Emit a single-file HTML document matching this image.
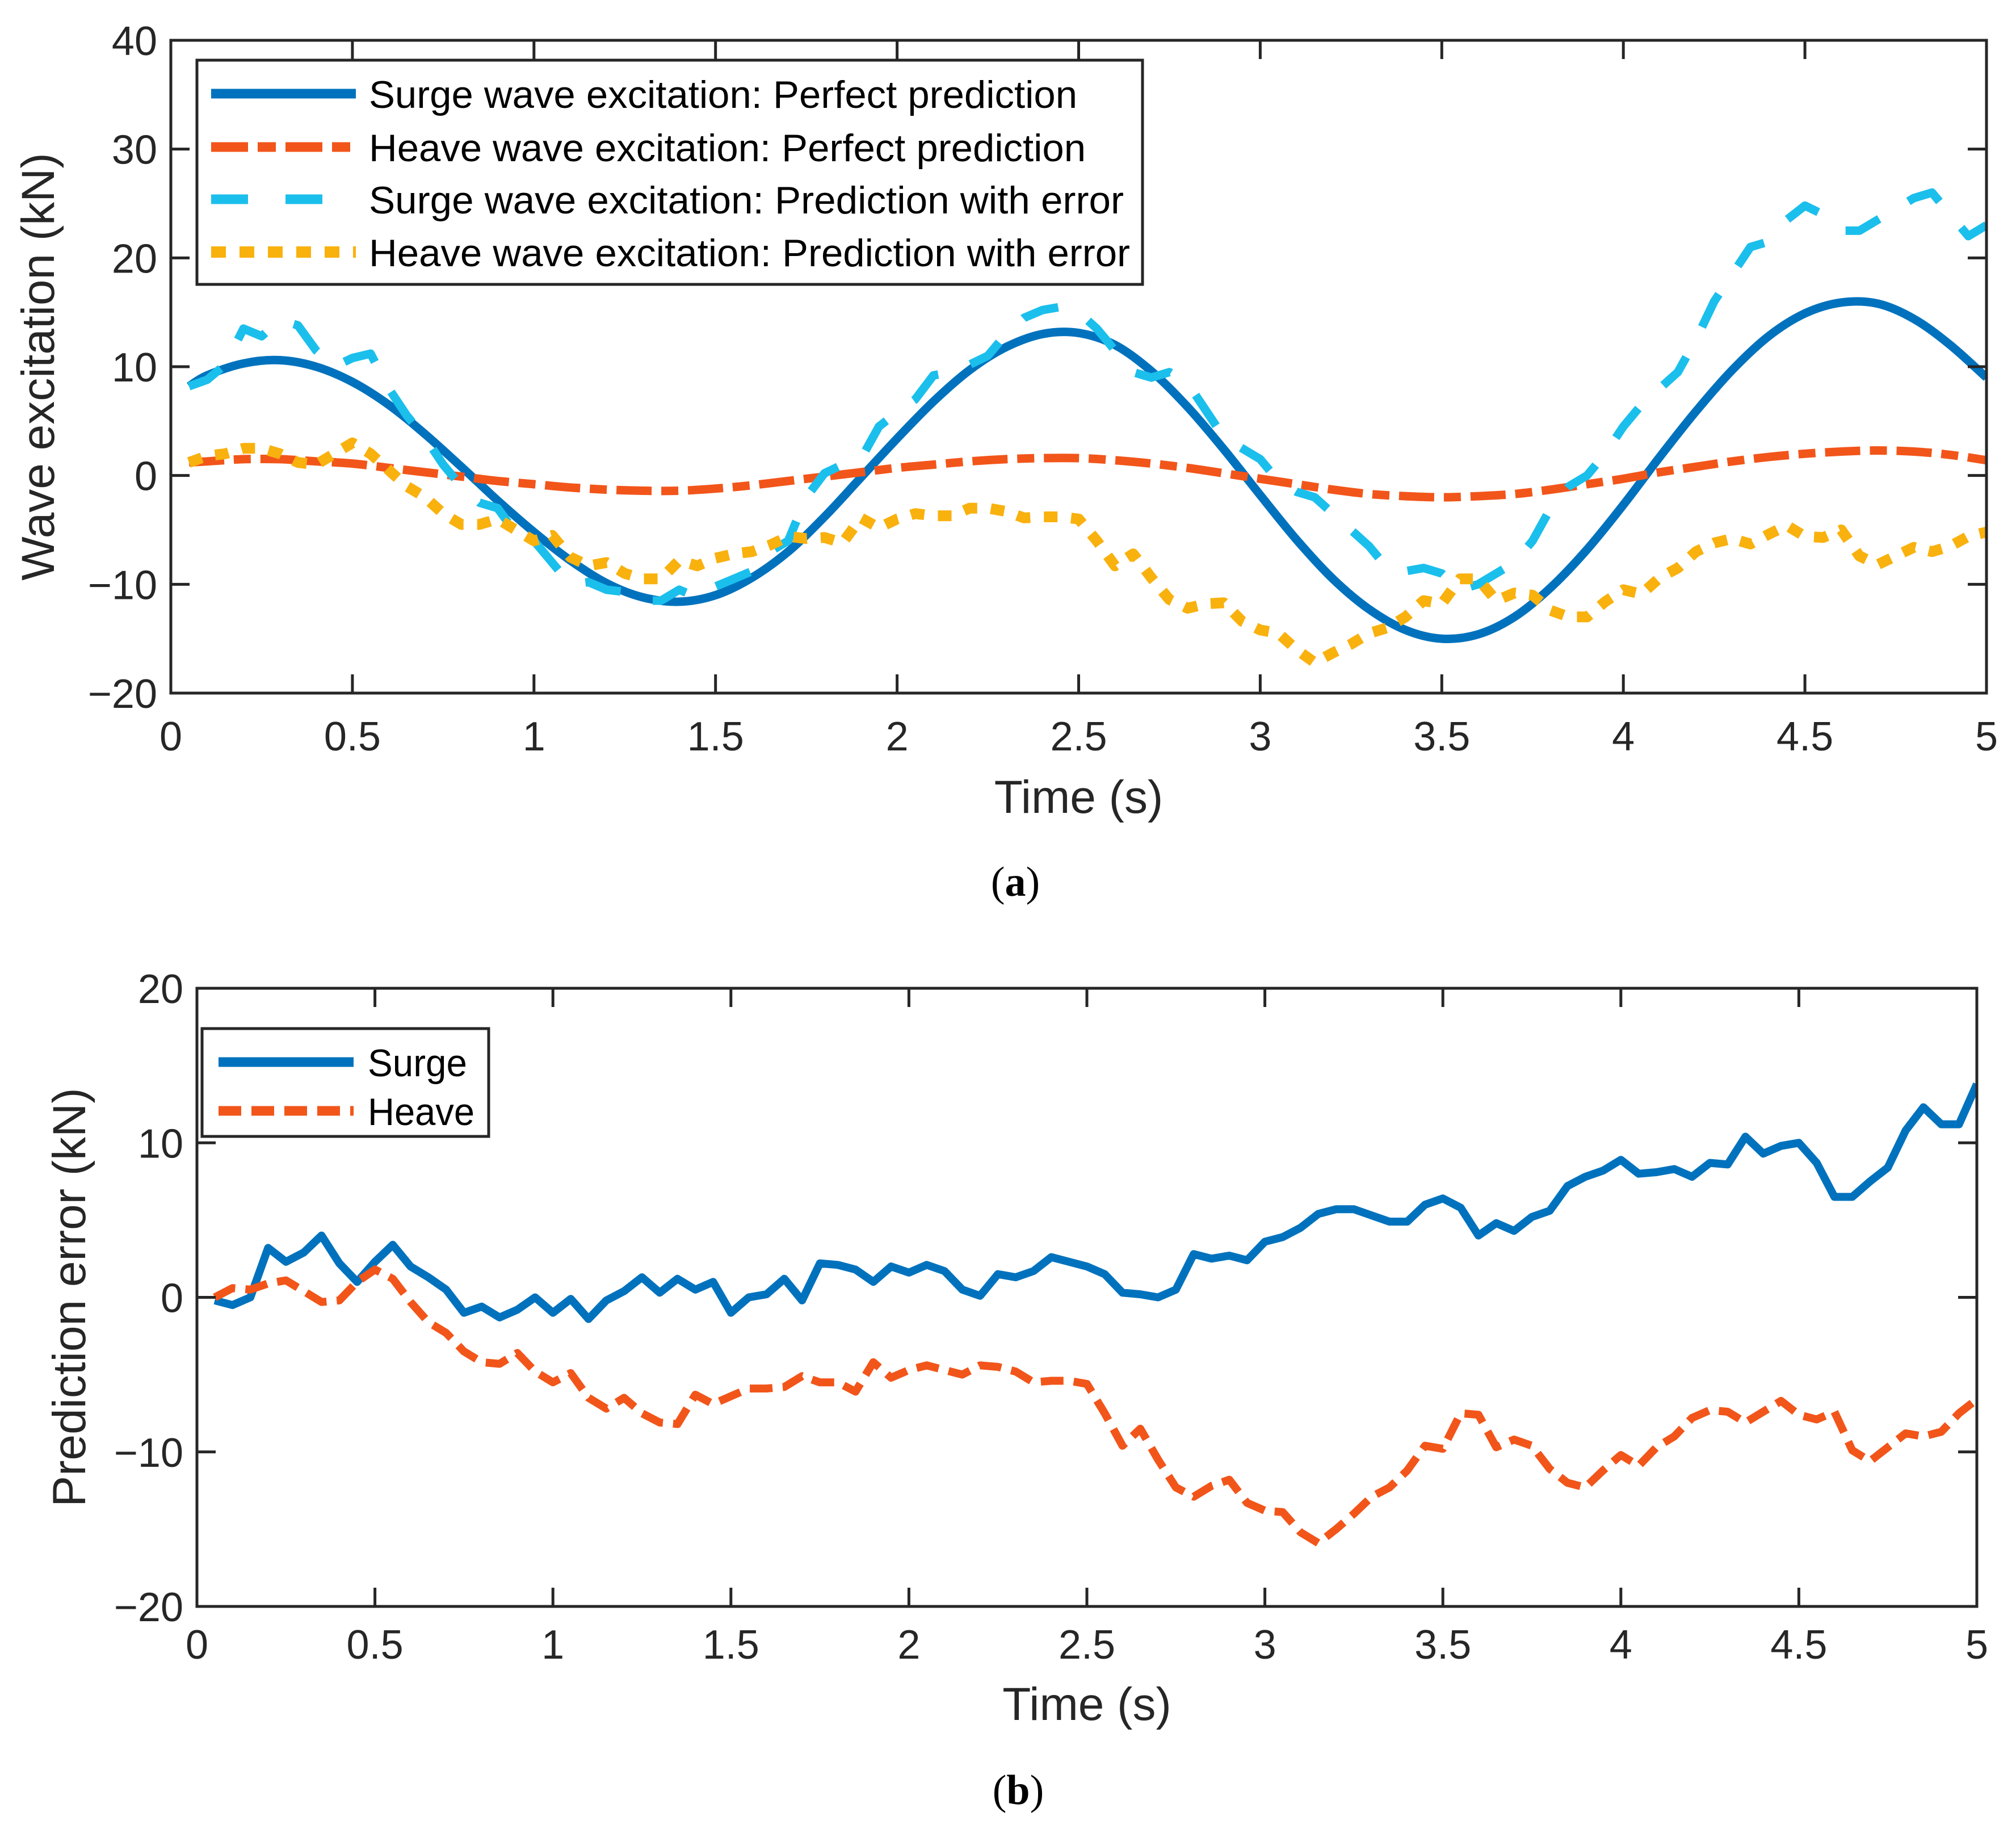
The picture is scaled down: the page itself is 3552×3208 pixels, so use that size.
<!DOCTYPE html>
<html><head><meta charset="utf-8"><style>
html,body{margin:0;padding:0;background:#fff;}
svg{display:block;font-family:"Liberation Sans",Arial,sans-serif;}
</style></head><body>
<svg id="fig" xmlns="http://www.w3.org/2000/svg" width="3552" height="3208" viewBox="0 0 3552 3208">
<rect width="3552" height="3208" fill="#fff"/>
</svg>
<script>
// ---- data: panel (a) ----
const tPerfect = [0.05,0.1,0.2,0.3,0.4,0.5,0.6,0.7,0.8,0.9,1.0,1.1,1.2,1.3,1.4,1.5,1.6,1.7,1.8,1.9,2.0,2.1,2.2,2.3,2.4,2.5,2.6,2.7,2.8,2.9,3.0,3.1,3.2,3.3,3.4,3.5,3.6,3.7,3.8,3.9,4.0,4.1,4.2,4.3,4.4,4.5,4.6,4.7,4.8,4.9,5.0];
const surgePerfect = [8.2,9.2,10.3,10.6,10.0,8.6,6.5,3.8,0.8,-2.3,-5.2,-7.8,-9.9,-11.2,-11.6,-11.0,-9.4,-7.0,-3.8,-0.2,3.4,6.8,9.7,11.8,13.0,13.1,12.0,9.6,6.3,2.4,-1.8,-5.9,-9.5,-12.3,-14.2,-15.0,-14.6,-13.0,-10.3,-6.8,-2.7,1.7,5.9,9.7,12.8,14.9,15.9,15.8,14.4,12.0,9.0];
const heavePerfect = [1.2,1.3,1.5,1.5,1.3,1.1,0.7,0.3,-0.1,-0.5,-0.8,-1.1,-1.3,-1.4,-1.4,-1.2,-0.9,-0.5,-0.1,0.3,0.7,1.0,1.3,1.5,1.6,1.6,1.4,1.1,0.7,0.2,-0.3,-0.8,-1.3,-1.7,-1.9,-2.0,-1.9,-1.7,-1.3,-0.8,-0.3,0.3,0.8,1.3,1.7,2.0,2.2,2.3,2.2,1.9,1.4];
const tErr = [0.05,0.1,0.15,0.2,0.25,0.3,0.35,0.4,0.45,0.5,0.55,0.6,0.65,0.7,0.75,0.8,0.85,0.9,0.95,1.0,1.05,1.1,1.15,1.2,1.25,1.3,1.35,1.4,1.45,1.5,1.55,1.6,1.65,1.7,1.75,1.8,1.85,1.9,1.95,2.0,2.05,2.1,2.15,2.2,2.25,2.3,2.35,2.4,2.45,2.5,2.55,2.6,2.65,2.7,2.75,2.8,2.85,2.9,2.95,3.0,3.05,3.1,3.15,3.2,3.25,3.3,3.35,3.4,3.45,3.5,3.55,3.6,3.65,3.7,3.75,3.8,3.85,3.9,3.95,4.0,4.05,4.1,4.15,4.2,4.25,4.3,4.35,4.4,4.45,4.5,4.55,4.6,4.65,4.7,4.75,4.8,4.85,4.9,4.95,5.0];
const surgeWithErr = [8.2,8.8,10.2,13.5,12.8,14.3,13.8,11.5,10.0,10.8,11.2,8.0,5.5,3.5,1.0,-1.0,-2.5,-3.0,-5.3,-6.0,-8.0,-10.0,-9.8,-10.5,-10.7,-11.5,-11.5,-10.5,-11.2,-10.2,-9.5,-8.8,-7.0,-6.0,-2.0,0.2,1.0,1.5,4.5,5.8,7.0,9.2,9.5,10.2,11.0,13.0,14.5,15.2,15.5,15.0,13.5,11.5,9.5,9.0,9.5,8.5,6.0,3.5,2.5,1.5,-0.5,-1.5,-2.0,-3.5,-5.0,-6.5,-8.5,-8.8,-8.5,-9.0,-10.5,-10.0,-9.0,-8.0,-6.0,-3.0,-1.0,0.0,2.0,4.5,6.5,8.0,9.5,12.5,16.0,18.5,21.0,21.5,23.5,24.8,24.0,22.5,22.5,23.5,24.5,25.5,26.0,24.0,22.0,23.0];
const heaveWithErr = [1.2,1.8,2.0,2.5,2.5,2.0,1.2,1.0,2.0,3.0,2.0,0.5,-1.0,-2.0,-3.5,-4.5,-4.5,-4.0,-5.0,-6.0,-5.5,-7.5,-8.3,-8.0,-9.0,-9.5,-9.5,-7.8,-8.3,-7.6,-7.2,-7.0,-6.4,-5.6,-5.8,-5.7,-6.2,-3.9,-4.8,-4.0,-3.5,-3.7,-3.7,-3.0,-3.0,-3.3,-3.9,-3.8,-3.8,-4.0,-6.0,-8.3,-7.2,-9.4,-11.4,-12.2,-11.8,-11.7,-13.4,-14.2,-14.5,-16.0,-17.2,-16.3,-15.5,-14.5,-14.0,-13.0,-11.5,-11.8,-9.5,-9.5,-11.5,-10.8,-11.0,-12.4,-13.0,-13.0,-11.6,-10.5,-10.9,-9.4,-8.5,-7.0,-6.2,-5.8,-6.3,-5.4,-4.6,-5.6,-5.7,-5.0,-7.4,-8.2,-7.4,-6.6,-7.0,-6.5,-5.6,-5.2];
// ---- data: panel (b) ----
const surgeError = [-0.2,-0.5,0,3.2,2.3,2.9,4.0,2.2,1.0,2.3,3.4,2.0,1.3,0.5,-1.0,-0.6,-1.3,-0.8,0,-1.0,-0.1,-1.4,-0.2,0.4,1.3,0.3,1.2,0.5,1.0,-1.0,0,0.2,1.2,-0.2,2.2,2.1,1.8,1.0,2.0,1.6,2.1,1.7,0.5,0.1,1.5,1.3,1.7,2.6,2.3,2.0,1.5,0.3,0.2,0,0.5,2.8,2.5,2.7,2.4,3.6,3.9,4.5,5.4,5.7,5.7,5.3,4.9,4.9,6.0,6.4,5.8,4.0,4.8,4.3,5.2,5.6,7.2,7.8,8.2,8.9,8.0,8.1,8.3,7.8,8.7,8.6,10.4,9.3,9.8,10.0,8.7,6.5,6.5,7.5,8.4,10.8,12.3,11.2,11.2,13.8];
const heaveError = [0,0.6,0.5,0.9,1.1,0.4,-0.3,-0.2,1.0,1.8,1.2,-0.3,-1.6,-2.3,-3.5,-4.2,-4.3,-3.6,-4.8,-5.5,-4.9,-6.5,-7.2,-6.5,-7.5,-8.1,-8.2,-6.3,-6.9,-6.4,-5.9,-5.9,-5.8,-5.1,-5.5,-5.5,-6.1,-4.2,-5.2,-4.7,-4.4,-4.7,-5.0,-4.4,-4.5,-4.8,-5.5,-5.4,-5.4,-5.6,-7.5,-9.6,-8.5,-10.5,-12.3,-12.9,-12.2,-11.8,-13.3,-13.8,-13.9,-15.2,-15.9,-15.0,-14.0,-12.9,-12.3,-11.2,-9.6,-9.8,-7.5,-7.6,-9.7,-9.2,-9.6,-11.1,-12.0,-12.3,-11.2,-10.2,-10.9,-9.7,-9.0,-7.8,-7.3,-7.4,-8.1,-7.4,-6.7,-7.6,-7.9,-7.4,-9.9,-10.6,-9.7,-8.8,-9.0,-8.7,-7.5,-6.6];
// ---- ticks ----
const xTicks = [0,0.5,1,1.5,2,2.5,3,3.5,4,4.5,5];
const xTickLabels = ["0","0.5","1","1.5","2","2.5","3","3.5","4","4.5","5"];
const yTicksA = [-20,-10,0,10,20,30,40];
const yTickLabelsA = ["\u221220","\u221210","0","10","20","30","40"];
const yTicksB = [-20,-10,0,10,20];
const yTickLabelsB = ["\u221220","\u221210","0","10","20"];

const NS="http://www.w3.org/2000/svg";
const svg=document.getElementById('fig');
function mk(tag,attrs,parent){const e=document.createElementNS(NS,tag);for(const k in attrs)e.setAttribute(k,attrs[k]);(parent||svg).appendChild(e);return e;}
const C={blue:"#0072BD",orange:"#F2551A",cyan:"#1BBFEC",yellow:"#F9B10E",ax:"#262626"};

function smoothPath(P){
  let d='M'+P[0][0].toFixed(1)+','+P[0][1].toFixed(1);
  for(let i=0;i<P.length-1;i++){
    const p0=P[i-1]||P[i],p1=P[i],p2=P[i+1],p3=P[i+2]||P[i+1];
    const c1=[p1[0]+(p2[0]-p0[0])/6,p1[1]+(p2[1]-p0[1])/6];
    const c2=[p2[0]-(p3[0]-p1[0])/6,p2[1]-(p3[1]-p1[1])/6];
    d+=' C'+c1[0].toFixed(1)+','+c1[1].toFixed(1)+' '+c2[0].toFixed(1)+','+c2[1].toFixed(1)+' '+p2[0].toFixed(1)+','+p2[1].toFixed(1);
  }
  return d;
}

function panel(cfg){
  const g=mk('g',{});
  
  
  const L=cfg.L,R=cfg.R,T=cfg.T,B=cfg.B;
  const sx=v=>L+(v-0)/(5-0)*(R-L);
  const sy=v=>B-(v-cfg.ymin)/(cfg.ymax-cfg.ymin)*(B-T);
  const cid='clip-'+cfg.name;
  const cp=mk('clipPath',{id:cid},g);mk('rect',{x:L,y:T,width:R-L,height:B-T},cp);
  const lines=mk('g',{'clip-path':'url(#'+cid+')'},g);
  cfg.series.forEach(s=>{
    let p;
    if(s.smooth){
      const P=s.t.map((t,i)=>[sx(t),sy(s.v[i])]);
      p=mk('path',{d:smoothPath(P),fill:'none',stroke:s.color,'stroke-width':s.w,'stroke-linejoin':'round','stroke-linecap':'butt'},lines);
    } else {
      const pts=s.t.map((t,i)=>sx(t).toFixed(1)+','+sy(s.v[i]).toFixed(1)).join(' ');
      p=mk('polyline',{points:pts,fill:'none',stroke:s.color,'stroke-width':s.w,'stroke-linejoin':'round','stroke-linecap':'butt'},lines);
    }
    if(s.dash)p.setAttribute('stroke-dasharray',s.dash);
    
    
  });
  const box=mk('rect',{x:L,y:T,width:R-L,height:B-T,fill:'none',stroke:C.ax,'stroke-width':5},g);
  
  
  const tl=33;
  xTicks.forEach((v,i)=>{
    const x=sx(v);
    mk('line',{x1:x,y1:B,x2:x,y2:B-tl,stroke:C.ax,'stroke-width':5},g);
    mk('line',{x1:x,y1:T,x2:x,y2:T+tl,stroke:C.ax,'stroke-width':5},g);
    const t=mk('text',{x:x,y:cfg.xTickY,'font-size':72,'text-anchor':'middle',fill:C.ax},g);
    t.textContent=xTickLabels[i];
    
    
  });
  cfg.yTicks.forEach((v,i)=>{
    const y=sy(v);
    mk('line',{x1:L,y1:y,x2:L+tl,y2:y,stroke:C.ax,'stroke-width':5},g);
    mk('line',{x1:R,y1:y,x2:R-tl,y2:y,stroke:C.ax,'stroke-width':5},g);
    const t=mk('text',{x:L-24,y:y+26,'font-size':72,'text-anchor':'end',fill:C.ax},g);
    t.textContent=cfg.yLabels[i];
    
    
  });
  const xl=mk('text',{x:(L+R)/2,y:cfg.xLabelY,'font-size':82,'text-anchor':'middle',fill:C.ax},g);
  xl.textContent='Time (s)';
  
  
  const yl=mk('text',{x:0,y:0,'font-size':82,'text-anchor':'middle',fill:C.ax,transform:'translate('+cfg.yLabelX+','+((T+B)/2)+') rotate(-90)'},g);
  yl.textContent=cfg.yTitle;
  
  
  const lg=mk('g',{},g);
  
  
  const lb=cfg.legend;
  mk('rect',{x:lb.x,y:lb.y,width:lb.w,height:lb.h,fill:'#fff',stroke:C.ax,'stroke-width':5},lg);
  cfg.series.filter(s=>s.label).forEach((s,i)=>{
    const y=lb.rows[i];
    const e=mk('g',{},lg);
    
    
    const ln=mk('line',{x1:lb.lx1,y1:y,x2:lb.lx2,y2:y,stroke:s.color,'stroke-width':s.lw||17},e);
    if(s.ldash)ln.setAttribute('stroke-dasharray',s.ldash);
    const t=mk('text',{x:lb.tx,y:y+25,'font-size':68,fill:'#000'},e);
    t.textContent=s.label;
    if(s.tl){t.setAttribute('textLength',s.tl);t.setAttribute('lengthAdjust','spacingAndGlyphs');}
  });
}

panel({name:'panel-a',L:301,R:3500,T:71,B:1221,ymin:-20,ymax:40,yTicks:yTicksA,yLabels:yTickLabelsA,
  xTickY:1322,xLabelY:1432,yLabelX:95,yTitle:'Wave excitation (kN)',
  legend:{x:347,y:106,w:1666,h:395,lx1:372,lx2:627,tx:650,rows:[165,259,351,444]},
  series:[
    {name:'surge-perfect-line',t:tPerfect,v:surgePerfect,color:C.blue,w:15,smooth:true,label:'Surge wave excitation: Perfect prediction',tl:1248},
    {name:'heave-perfect-line',t:tPerfect,v:heavePerfect,color:C.orange,w:15,smooth:true,dash:'62 17 30 17',ldash:'65 17 32 17',label:'Heave wave excitation: Perfect prediction',tl:1263},
    {name:'surge-error-line',t:tErr,v:surgeWithErr,color:C.cyan,w:15,dash:'65 60',ldash:'65 66',label:'Surge wave excitation: Prediction with error',tl:1330},
    {name:'heave-error-line',t:tErr,v:heaveWithErr,color:C.yellow,w:19,dash:'24 24',ldash:'26 24',lw:20,label:'Heave wave excitation: Prediction with error',tl:1341}
  ]});

panel({name:'panel-b',L:347,R:3483,T:1741,B:2830,ymin:-20,ymax:20,yTicks:yTicksB,yLabels:yTickLabelsB,
  xTickY:2922,xLabelY:3030,yLabelX:150,yTitle:'Prediction error (kN)',
  legend:{x:356,y:1812,w:505,h:190,lx1:385,lx2:623,tx:648,rows:[1871,1957]},
  series:[
    {name:'surge-error-b-line',t:tErr,v:surgeError,color:C.blue,w:14,label:'Surge',tl:175},
    {name:'heave-error-b-line',t:tErr,v:heaveError,color:C.orange,w:14,dash:'40 18',ldash:'40 18',label:'Heave',tl:188}
  ]});

[['(a)',1789,1578,'caption-a'],['(b)',1794,3178,'caption-b']].forEach(c=>{
  const t=mk('text',{x:c[1],y:c[2],'font-size':74,'text-anchor':'middle',fill:'#000','font-family':'"Liberation Serif",serif'});
  t.innerHTML='(<tspan font-weight="bold">'+c[0][1]+'</tspan>)';
  
  
});
</script>
</body></html>
